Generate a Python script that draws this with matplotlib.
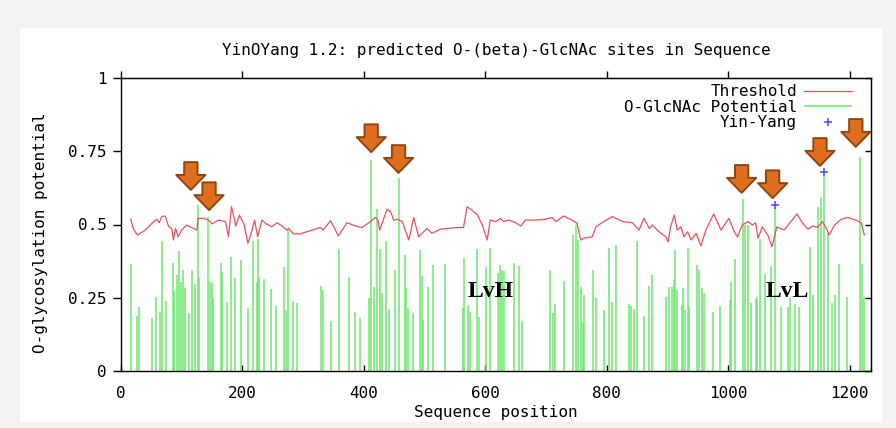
import matplotlib.pyplot as plt
from matplotlib.patches import Rectangle

# sequence / axis ranges
seq_len = 1235
x_ticks = [0, 200, 400, 600, 800, 1000, 1200]
y_ticks = [0, 0.25, 0.5, 0.75, 1]
y_tick_labels = ["0", "0.25", "0.5", "0.75", "1"]

# O-GlcNAc potential per site
site_pos = [16, 26, 30, 51, 58, 65, 67, 74, 85, 87, 92, 96, 98, 102, 105, 112, 117, 122,
            126, 129, 144, 147, 150, 152, 165, 167, 175, 181, 188, 197, 209, 217, 224, 226,
            228, 235, 247, 256, 269, 272, 275, 283, 290,
            329, 332, 345, 359, 375, 386, 393, 408, 412, 416, 422, 426, 429, 436, 442, 452,
            458, 467, 470, 473, 481, 493, 495, 497, 506, 513, 534, 563, 565, 571, 575, 587,
            590, 601, 607, 620, 624, 628, 630, 647, 656, 661,
            706, 711, 715, 729, 745, 749, 753, 757, 760, 763, 777, 782, 795, 804, 809, 815,
            837, 840, 844, 850, 861, 870, 874, 898, 902, 907, 911, 912, 915, 923, 926, 928,
            934, 936, 949, 951, 957, 960, 975, 987, 1003, 1004, 1011, 1025, 1028, 1033, 1038,
            1045, 1048, 1052, 1061, 1070, 1077, 1087, 1098, 1101, 1110, 1117, 1135, 1139,
            1147, 1152, 1157, 1165, 1170, 1176, 1182, 1196, 1217, 1220, 1223]
site_potential = [0.364, 0.189, 0.22, 0.18, 0.254, 0.203, 0.444, 0.24, 0.367, 0.274, 0.328,
                  0.41, 0.305, 0.345, 0.282, 0.199, 0.345, 0.297, 0.567, 0.316, 0.527, 0.307,
                  0.299, 0.248, 0.367, 0.339, 0.234, 0.388, 0.316, 0.378, 0.214, 0.445, 0.305,
                  0.449, 0.322, 0.313, 0.279, 0.223, 0.354, 0.208, 0.484, 0.239, 0.231,
                  0.291, 0.276, 0.171, 0.415, 0.322, 0.203, 0.18, 0.25, 0.72, 0.288, 0.552,
                  0.415, 0.265, 0.444, 0.212, 0.345, 0.658, 0.396, 0.282, 0.214, 0.199, 0.413,
                  0.324, 0.174, 0.288, 0.362, 0.364, 0.216, 0.385, 0.225, 0.2, 0.415, 0.185,
                  0.355, 0.42, 0.334, 0.362, 0.345, 0.34, 0.367, 0.36, 0.171,
                  0.345, 0.197, 0.228, 0.307, 0.464, 0.5, 0.447, 0.288, 0.168, 0.259, 0.345,
                  0.248, 0.208, 0.421, 0.234, 0.429, 0.228, 0.223, 0.21, 0.444, 0.189, 0.29,
                  0.328, 0.254, 0.288, 0.288, 0.311, 0.413, 0.276, 0.225, 0.282, 0.208, 0.419,
                  0.22, 0.362, 0.345, 0.282, 0.265, 0.203, 0.222, 0.242, 0.305, 0.382, 0.586,
                  0.498, 0.498, 0.231, 0.245, 0.254, 0.45, 0.33, 0.36, 0.555, 0.22, 0.22, 0.25,
                  0.23, 0.22, 0.424, 0.259, 0.561, 0.593, 0.669, 0.47, 0.231, 0.259, 0.365,
                  0.254, 0.731, 0.365, 0.254]

# threshold curve
thr_pos = [16, 20, 27, 40, 51, 59, 63, 67, 73, 78, 84, 86, 90, 94, 100, 108, 116, 125, 127,
           136, 144, 150, 160, 172, 177, 182, 189, 195, 203, 209, 215, 220, 225, 232, 238,
           248, 257, 265, 273, 276, 284, 295, 312, 328, 333, 345, 358, 372, 386, 397, 411,
           419, 423, 426, 438, 444, 449, 455, 463, 468, 474, 482, 490, 504, 512, 526, 540,
           554, 564, 570, 578, 587, 595, 603, 608, 617, 625, 630, 639, 650, 658, 666, 683,
           699, 710, 716, 729, 740, 751, 757, 762, 776, 782, 795, 809, 826, 842, 853, 861,
           870, 875, 886, 897, 901, 905, 911, 916, 922, 927, 933, 939, 947, 955, 963, 976,
           988, 1001, 1010, 1015, 1023, 1032, 1040, 1045, 1049, 1056, 1065, 1072, 1080,
           1092, 1103, 1113, 1122, 1131, 1139, 1147, 1155, 1163, 1166, 1175, 1186, 1197,
           1210, 1219, 1224]
thr_val = [0.518, 0.487, 0.464, 0.481, 0.504, 0.518, 0.506, 0.527, 0.529, 0.495, 0.484,
           0.447, 0.487, 0.458, 0.481, 0.498, 0.49, 0.481, 0.521, 0.521, 0.515, 0.502, 0.515,
           0.51, 0.458, 0.561, 0.495, 0.532, 0.498, 0.436, 0.475, 0.515, 0.458, 0.515, 0.504,
           0.492, 0.506, 0.495, 0.481, 0.487, 0.468, 0.468, 0.479, 0.49, 0.481, 0.513, 0.461,
           0.506, 0.495, 0.49, 0.51, 0.524, 0.515, 0.481, 0.552, 0.544, 0.515, 0.518, 0.51,
           0.481, 0.447, 0.524, 0.458, 0.487, 0.47, 0.484, 0.487, 0.49, 0.49, 0.561, 0.549,
           0.532, 0.498, 0.447, 0.515, 0.51, 0.521, 0.51, 0.515, 0.506, 0.495, 0.515, 0.515,
           0.518, 0.524, 0.51, 0.529, 0.518, 0.504, 0.447, 0.453, 0.458, 0.492, 0.51, 0.527,
           0.51, 0.506, 0.481, 0.521, 0.487, 0.498, 0.475, 0.458, 0.441, 0.492, 0.532, 0.481,
           0.492, 0.458, 0.475, 0.447, 0.47, 0.427, 0.481, 0.536, 0.481, 0.521, 0.475, 0.458,
           0.498, 0.51, 0.498, 0.506, 0.453, 0.492, 0.464, 0.424, 0.492, 0.481, 0.51, 0.536,
           0.506, 0.484, 0.495, 0.49, 0.51, 0.481, 0.464, 0.498, 0.518, 0.524, 0.515, 0.506,
           0.464]

# Yin-Yang sites
yy_pos = [1077, 1157]
yy_val = [0.566, 0.678]

# orange arrow annotations (tip position) and region labels
arrow_pos = [115, 145, 412, 457, 1022, 1073, 1151, 1210]
arrow_tip = [0.618, 0.549, 0.747, 0.676, 0.608, 0.59, 0.70, 0.765]
region_labels = ["LvH", "LvL"]
region_pos = [608, 1097]
region_y = [0.273, 0.273]

mono = "DejaVu Sans Mono"
fs = 11.5

fig = plt.figure(figsize=(8.96, 4.28), dpi=100)
fig.patch.set_facecolor("#f2f2f2")
panel = Rectangle((20 / 896, 6 / 428), 862 / 896, 394 / 428, transform=fig.transFigure,
                  facecolor="white", edgecolor="none", zorder=-10)
fig.add_artist(panel)

ax = fig.add_axes([121 / 896, 1 - 371 / 428, 750 / 896, 293 / 428])
ax.set_facecolor("none")

ax.vlines(site_pos, 0, site_potential, colors="#6ee86e", lw=1.1, label="O-GlcNAc Potential")
ax.plot(thr_pos, thr_val, color="#e8505c", lw=0.9, label="Threshold")
ax.plot(yy_pos, yy_val, ls="none", marker="+", ms=6, mew=1.1, color="#4a4aff",
        label="Yin-Yang")

for x, y in zip(arrow_pos, arrow_tip):
    ax.annotate("", xy=(x, y), xytext=(0, 20), textcoords="offset points",
                arrowprops=dict(arrowstyle="simple,head_length=0.54,head_width=1.05,tail_width=0.48",
                                mutation_scale=20, fc="#df6f1e", ec="#8f4512", lw=1.4,
                                shrinkA=0, shrinkB=0))

for lab, x, y in zip(region_labels, region_pos, region_y):
    ax.text(x, y, lab, fontsize=17, fontweight="bold", family="Liberation Serif",
            ha="center", va="center")

ax.set_xlim(0, seq_len)
ax.set_ylim(0, 1)
ax.set_xticks(x_ticks)
ax.set_yticks(y_ticks)
ax.set_yticklabels(y_tick_labels)
for lab in ax.get_xticklabels() + ax.get_yticklabels():
    lab.set_family(mono)
    lab.set_fontsize(fs)
ax.tick_params(axis="y", direction="out", length=5.5, width=1, pad=5)
ax.tick_params(axis="x", direction="in", length=4.5, width=1, pad=10.5)
for s in ax.spines.values():
    s.set_linewidth(1.0)

secy = ax.secondary_yaxis("right")
secy.set_yticks(y_ticks)
secy.tick_params(direction="in", length=4, width=1, labelright=False)
secx = ax.secondary_xaxis("top")
secx.set_xticks(x_ticks)
secx.tick_params(direction="out", length=5, width=1, labeltop=False)

# legend with text right-aligned in front of the handles
h, l = ax.get_legend_handles_labels()
order = [1, 0, 2]
ax.legend([h[i] for i in order], [l[i] for i in order], loc="upper right",
          bbox_to_anchor=(0.975, 0.979), borderaxespad=0, borderpad=0, frameon=False,
          markerfirst=False, handlelength=3.0, handletextpad=0.45, labelspacing=0.04,
          prop={"family": mono, "size": fs})

fig.text(496 / 896, 1 - 50 / 428, "YinOYang 1.2: predicted O-(beta)-GlcNAc sites in Sequence",
         ha="center", va="center", family=mono, fontsize=fs)
fig.text(496 / 896, 1 - 413 / 428, "Sequence position", ha="center", va="center",
         family=mono, fontsize=fs)
fig.text(41 / 896, 1 - 233 / 428, "O-glycosylation potential", ha="center", va="center",
         rotation=90, family=mono, fontsize=fs)

fig.savefig("out.png", dpi=100, facecolor=fig.get_facecolor())
